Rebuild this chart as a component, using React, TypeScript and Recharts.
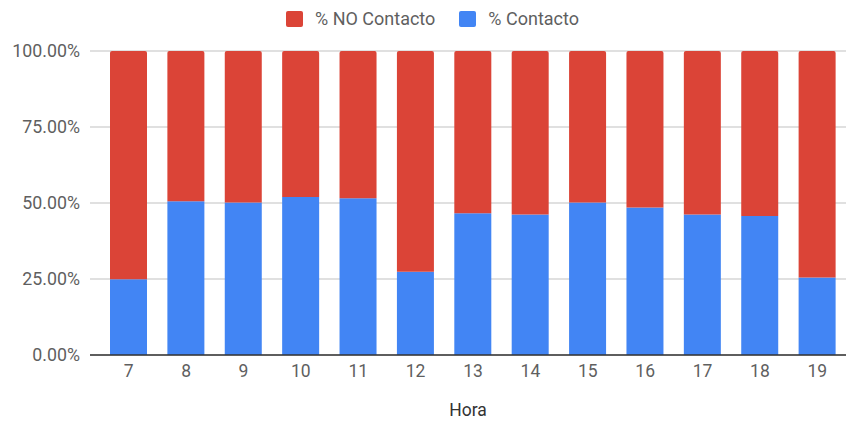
import { BarChart, Bar, XAxis, YAxis, CartesianGrid } from "recharts";

const horas = ["7", "8", "9", "10", "11", "12", "13", "14", "15", "16", "17", "18", "19"];
// % Contacto por hora (fracción); el resto es % NO Contacto
const contacto = [0.249, 0.506, 0.502, 0.52, 0.516, 0.274, 0.466, 0.462, 0.502, 0.485, 0.462, 0.457, 0.255];
const noContacto = contacto.map((c) => 1 - c);
const ticksY = [0, 0.25, 0.5, 0.75, 1];

const ROJO = "#db4437";
const AZUL = "#4285f4";
const FONT = "Roboto, 'Noto Sans', sans-serif";

const data = horas.map((h, i) => ({ hora: h, contacto: contacto[i], noContacto: noContacto[i] }));

const leyenda = [
  { label: "% NO Contacto", color: ROJO },
  { label: "% Contacto", color: AZUL },
];

function Leyenda() {
  return (
    <div
      style={{
        position: "absolute",
        top: 8,
        left: 286,
        display: "flex",
        alignItems: "center",
        fontFamily: FONT,
        fontSize: 18,
        color: "#5f5f5f",
        whiteSpace: "nowrap",
      }}
    >
      {leyenda.map((l, i) => (
        <div key={l.label} style={{ display: "flex", alignItems: "center", marginRight: i === 0 ? 24 : 0 }}>
          <span
            style={{
              display: "inline-block",
              width: 17,
              height: 16,
              borderRadius: 2,
              background: l.color,
              marginRight: 12,
            }}
          />
          <span>{l.label}</span>
        </div>
      ))}
    </div>
  );
}

export default function App() {
  return (
    <div style={{ position: "absolute", top: 0, left: 0, width: 846, height: 421, background: "#fff" }}>
      <Leyenda />
      <BarChart
        width={846}
        height={421}
        data={data}
        margin={{ top: 51, right: 0, left: 0, bottom: 6 }}
        barSize={37}
      >
        <CartesianGrid vertical={false} stroke="#d6d6d6" strokeWidth={1.5} />
        <XAxis
          dataKey="hora"
          padding={{ left: 10, right: 0 }}
          tickLine={false}
          tickSize={0}
          tickMargin={10}
          axisLine={{ stroke: "#333", strokeWidth: 1.5 }}
          height={60}
          tick={{ fontSize: 17.5, fill: "#5f5f5f", fontFamily: FONT }}
          label={{
            value: "Hora",
            position: "insideBottom",
            offset: -1,
            style: { fontSize: 17.5, fill: "#333", fontFamily: FONT },
          }}
        />
        <YAxis
          domain={[0, 1]}
          ticks={ticksY}
          width={90}
          tickLine={false}
          axisLine={false}
          tickSize={0}
          tickMargin={10}
          tickFormatter={(v: number) => `${(v * 100).toFixed(2)}%`}
          tick={{ fontSize: 17.8, fill: "#5f5f5f", fontFamily: FONT }}
        />
        <Bar dataKey="contacto" stackId="a" fill={AZUL} isAnimationActive={false} />
        <Bar dataKey="noContacto" stackId="a" fill={ROJO} radius={[2, 2, 0, 0]} isAnimationActive={false} />
      </BarChart>
    </div>
  );
}
